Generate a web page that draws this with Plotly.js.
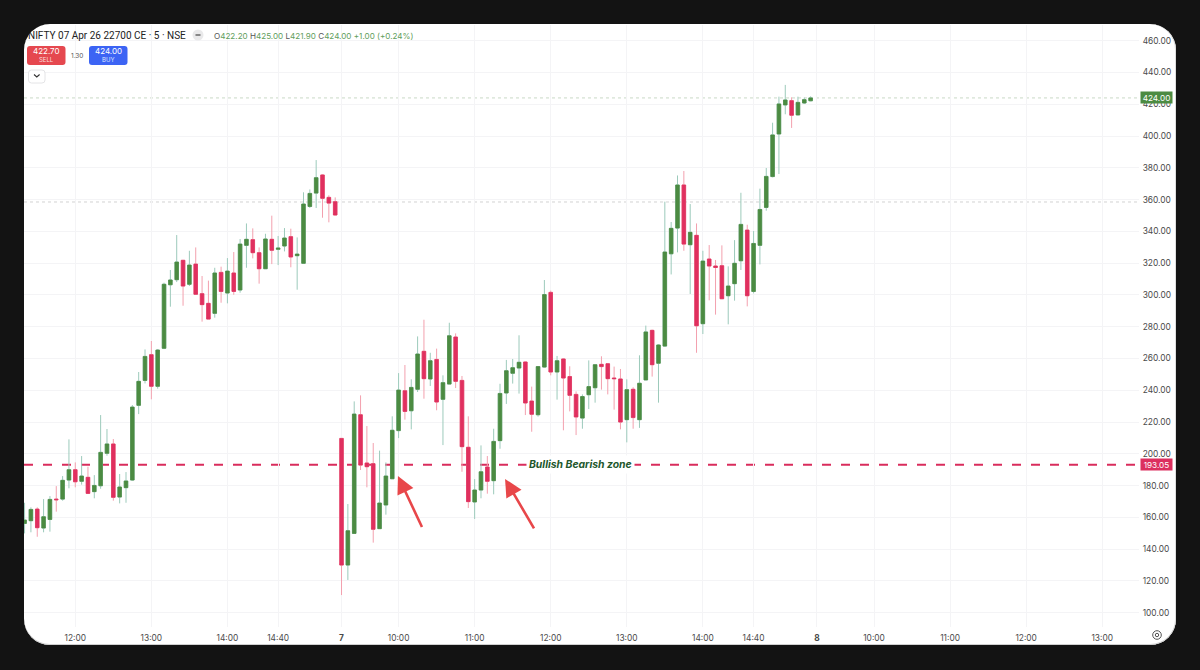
<!DOCTYPE html>
<html>
<head>
<meta charset="utf-8">
<script src="https://cdn.plot.ly/plotly-3.0.1.min.js"></script>
<style>
html,body{margin:0;padding:0;width:1200px;height:670px;background:#131313;overflow:hidden}
#frame{position:absolute;left:24px;top:24px;width:1152px;height:621px;background:#fff;border-radius:26px;overflow:hidden;box-shadow:inset 0 -1px 0 #cfcfcf,inset -1px 0 0 #dedede}
#chart{position:absolute;left:-24px;top:-24px;width:1200px;height:670px}
</style>
</head>
<body>
<div id="frame"><div id="chart"></div></div>
<script>
const opens = [156.2,157.9,165.2,153.3,158.7,171.5,171.5,183.5,190.0,182.7,185.2,176.2,179.9,200.3,206.2,172.8,178.7,183.5,230.5,246.2,262.4,242.5,266.4,306.4,309.6,321.8,306.7,319.4,300.8,294.7,288.4,314.2,301.2,313.8,303.1,331.2,334.8,326.6,316.5,335.0,328.7,330.8,336.7,324.7,319.9,355.7,364.1,375.5,361.4,358.7,
209.7,130.0,149.9,224.6,194.2,193.8,152.9,167.8,184.3,214.6,239.7,227.1,240.6,264.5,247.1,259.4,234.3,243.9,273.5,246.2,204.1,169.7,177.2,191.7,183.1,208.3,238.3,250.7,254.0,257.8,233.2,224.6,254.6,301.6,251.5,259.7,248.6,237.4,222.5,237.2,241.6,256.3,256.7,247.7,247.1,221.5,240.6,221.5,246.5,277.7,257.0,267.8,325.9,342.1,369.2,331.6,337.5,281.9,322.6,318.2,318.4,299.5,307.1,321.5,340.8,302.2,331.2,355.1,374.5,401.3,419.6,422.3,413.3,420.8,422.2];
const highs = [169.2,166.3,166.3,171.5,173.4,179.7,186.0,209.1,194.6,198.6,191.9,186.6,224.4,215.6,209.3,187.3,188.5,230.7,251.5,265.7,271.0,265.9,307.7,315.7,337.7,322.0,327.8,329.9,311.9,309.0,317.1,317.8,323.2,327.0,335.2,345.0,341.9,329.9,338.5,349.9,337.1,342.1,341.7,336.2,364.6,366.4,384.9,375.9,362.7,361.4,
209.9,168.4,233.0,236.8,217.5,206.8,202.0,194.6,223.6,250.8,255.9,246.9,273.9,284.4,263.6,266.2,249.4,282.5,275.8,249.0,223.6,184.1,205.3,198.6,215.8,244.1,259.1,259.7,274.6,258.0,242.3,255.1,309.4,302.7,261.6,260.1,255.1,239.3,237.4,258.8,256.3,261.4,257.0,254.9,253.4,246.9,241.9,262.0,280.7,278.1,268.9,358.7,345.9,375.2,378.0,357.2,345.0,327.8,331.4,322.0,331.2,318.0,334.5,364.3,344.2,340.2,366.9,379.9,408.4,424.8,432.2,424.4,424.8,424.2,425.0];
const lows = [149.9,150.6,147.8,150.6,151.0,163.6,170.5,178.3,178.9,180.6,174.7,172.0,178.0,198.8,170.5,168.8,169.2,183.1,225.0,244.3,234.3,241.0,265.9,292.6,308.1,293.2,305.6,300.1,283.2,284.8,285.7,295.1,294.7,300.1,301.4,317.1,323.0,307.1,316.3,319.4,318.8,327.4,317.4,303.3,319.7,354.7,354.7,348.6,345.7,350.1,
111.1,120.6,149.9,189.8,178.9,144.1,152.9,161.7,184.3,209.9,221.5,215.4,238.9,234.7,242.7,227.4,205.5,243.9,241.4,188.7,165.9,159.0,172.0,174.9,174.5,203.2,231.4,244.2,237.9,224.4,213.9,223.4,254.2,249.4,234.1,214.8,226.7,211.8,215.8,228.2,232.2,240.4,237.4,227.8,215.4,207.2,215.8,216.3,246.5,248.6,232.2,267.4,312.9,326.8,327.8,300.6,263.6,275.4,296.6,287.6,297.6,281.5,296.4,315.7,292.8,301.0,319.2,353.0,374.0,376.1,413.7,405.1,413.1,420.2,421.9];
const closes = [158.3,165.0,153.5,160.4,171.3,171.1,183.3,190.0,182.4,186.0,175.1,180.1,200.9,206.2,172.6,179.1,182.9,229.4,245.6,261.3,242.5,265.3,306.7,309.4,320.7,305.6,318.8,300.4,293.9,284.8,313.8,302.2,315.0,302.2,332.0,335.0,326.6,316.5,335.2,328.1,329.5,335.8,323.9,325.7,357.2,363.9,373.8,360.8,357.8,350.3,
130.0,151.6,225.0,192.9,191.9,152.5,169.0,186.0,214.8,240.1,226.7,241.8,262.8,247.3,258.6,232.6,244.8,274.3,245.6,204.5,169.9,177.2,188.7,182.7,207.8,238.0,252.3,254.2,257.6,232.0,224.9,254.9,300.2,251.5,258.6,247.7,236.8,223.2,236.0,242.3,256.1,254.9,247.3,247.3,220.0,240.4,222.8,244.4,276.7,256.1,268.5,327.0,341.9,369.2,332.0,339.4,280.6,321.3,318.2,317.3,297.6,305.6,319.9,344.4,299.5,332.4,353.8,374.6,400.7,420.2,422.7,413.1,421.2,422.9,424.0];

const tickSlots  = [9,21,33,41,51,60,72,84,96,108,116,126,135,147,159,171];
const tickLabels = ['12:00','13:00','14:00','14:40','<b>7</b>','10:00','11:00','12:00','13:00','14:00','14:40','<b>8</b>','10:00','11:00','12:00','13:00'];
const priceTicks = [100,120,140,160,180,200,220,240,260,280,300,320,340,360,380,400,420,440,460];
const lastPrice = 424.00;
const zonePrice = 193.05;
const levelPrice = 358.5;
const arrowTips  = [[59.9,186.1],[76.8,184.2]];
const arrowTails = [[63.8,153.0],[81.5,152.1]];

const slots = opens.map((_, i) => i + 1);
const bodyTop = opens.map((o, i) => Math.max(o, closes[i]));
const bodyBot = opens.map((o, i) => Math.min(o, closes[i]));

const GREEN = '#4c8b42', RED = '#e0305f';
const WICK_G = '#9ccabb', WICK_R = '#f3a0ae';
const FONT = 'Inter, "Noto Sans", sans-serif';

const L = 24, R = 1139, T = 25, B = 627;
const px = x => (x - L) / (R - L);
const py = y => 1 - (y - T) / (B - T);

function roundRect(x0, y0, x1, y1, r, fill, line) {
  const p = (x, y) => px(x) + ',' + py(y);
  return {
    type: 'path', xref: 'paper', yref: 'paper', fillcolor: fill,
    line: {color: line || fill, width: line ? 1 : 0},
    path: 'M' + p(x0 + r, y0) + ' L' + p(x1 - r, y0) + ' Q' + p(x1, y0) + ' ' + p(x1, y0 + r) +
          ' L' + p(x1, y1 - r) + ' Q' + p(x1, y1) + ' ' + p(x1 - r, y1) +
          ' L' + p(x0 + r, y1) + ' Q' + p(x0, y1) + ' ' + p(x0, y1 - r) +
          ' L' + p(x0, y0 + r) + ' Q' + p(x0, y0) + ' ' + p(x0 + r, y0) + ' Z'
  };
}
function circle(cx, cy, r, fill, line) {
  return {type: 'circle', xref: 'paper', yref: 'paper', x0: px(cx - r), x1: px(cx + r), y0: py(cy + r), y1: py(cy - r),
          fillcolor: fill, line: {color: line || fill, width: line ? 1 : 0}};
}
function label(x, y, text, size, color, anchor, extra) {
  return Object.assign({xref: 'paper', yref: 'paper', x: px(x), y: py(y), text, showarrow: false,
    xanchor: anchor || 'left', yanchor: 'middle', font: {family: FONT, size, color}}, extra || {});
}

const wicks = {
  type: 'candlestick', x: slots, open: opens, high: highs, low: lows, close: closes,
  increasing: {line: {color: WICK_G, width: 1}, fillcolor: WICK_G},
  decreasing: {line: {color: WICK_R, width: 1}, fillcolor: WICK_R},
  hoverinfo: 'skip', showlegend: false
};
const bodies = {
  type: 'candlestick', x: slots, open: opens, high: bodyTop, low: bodyBot, close: closes,
  increasing: {line: {color: GREEN, width: 0.7}, fillcolor: GREEN},
  decreasing: {line: {color: RED, width: 0.7}, fillcolor: RED},
  hoverinfo: 'skip', showlegend: false
};

const hline = (v, color, width, dash) => ({type: 'line', xref: 'paper', yref: 'y', x0: 0, x1: 1, y0: v, y1: v,
  layer: 'below', line: {color, width, dash}});

const chevronP = (x, y) => px(x) + ',' + py(y);

const g = '#5f9e5c';
const ohlc = 'O<span style="color:' + g + '">422.20</span> H<span style="color:' + g + '">425.00</span> L<span style="color:' + g + '">421.90</span> C<span style="color:' + g + '">424.00</span> <span style="color:' + g + '">+1.00 (+0.24%)</span>';

const arrows = arrowTips.map((tip, i) => ({
  xref: 'x', yref: 'y', axref: 'x', ayref: 'y', x: tip[0], y: tip[1], ax: arrowTails[i][0], ay: arrowTails[i][1],
  text: '', showarrow: true, arrowhead: 2, arrowsize: 1.35, arrowwidth: 2.6, arrowcolor: '#e8474a', standoff: 0
}));

const layout = {
  width: 1200, height: 670, autosize: false,
  margin: {l: L, r: 1200 - R, t: T, b: 670 - B, pad: 0},
  paper_bgcolor: 'rgba(0,0,0,0)', plot_bgcolor: 'rgba(0,0,0,0)',
  font: {family: FONT, size: 8.5, color: '#4a4a4a'},
  boxgap: 0.2,
  showlegend: false,
  dragmode: false,
  xaxis: {
    range: [0.91, 176.8], tickmode: 'array', tickvals: tickSlots, ticktext: tickLabels,
    rangeslider: {visible: false}, showgrid: true, gridcolor: '#f4f4f6', gridwidth: 1, zeroline: false,
    showline: false, ticks: 'outside', ticklen: 3, tickcolor: 'rgba(0,0,0,0)',
    tickangle: 0, tickfont: {family: FONT, size: 8.4, color: '#4a4a4a'}
  },
  yaxis: {
    side: 'right', range: [91.0, 469.9], tickmode: 'array', tickvals: priceTicks,
    ticktext: priceTicks.map(v => v.toFixed(2)), showgrid: true, gridcolor: '#f4f4f6', gridwidth: 1,
    zeroline: false, showline: false, ticks: 'outside', ticklen: 1, tickcolor: 'rgba(0,0,0,0)',
    tickfont: {family: FONT, size: 8.4, color: '#4a4a4a'}
  },
  shapes: [
    hline(levelPrice, '#bdbdbd', 0.7, 'dot'),
    hline(lastPrice, '#b2c9ae', 0.7, 'dot'),
    hline(zonePrice, '#d92c5c', 2, '9px,10px'),
    circle(198, 35, 5.5, '#e9e9ea'),
    {type: 'path', xref: 'paper', yref: 'paper', path: 'M' + chevronP(195.5, 35) + ' L' + chevronP(200.5, 35), line: {color: '#666', width: 1.5}},
    roundRect(27, 46, 65.5, 65, 3, '#e5484f'),
    roundRect(89, 46, 127.5, 65, 3, '#3c64f4'),
    roundRect(28.5, 70, 45, 83, 3, '#ffffff', '#e4e4e6'),
    {type: 'path', xref: 'paper', yref: 'paper', path: 'M' + chevronP(34, 74.5) + ' L' + chevronP(36.8, 77) + ' L' + chevronP(39.6, 74.5), line: {color: '#333', width: 1.1}},
    circle(1157, 635, 4.3, '#fff', '#555'),
    circle(1157, 635, 1.7, '#fff', '#555')
  ],
  annotations: [
    label(26, 35, 'NIFTY 07 Apr 26 22700 CE · 5 · NSE', 10, '#222222', 'left', {font: {family: 'Roboto, Inter, sans-serif', size: 10, color: '#222222'}}),
    label(212, 35.5, ohlc, 8.1, '#555555'),
    label(46.2, 51.5, '422.70', 8, '#ffffff', 'center'),
    label(46.2, 60, 'SELL', 6, '#fbdcdc', 'center'),
    label(77, 55.5, '1.30', 6.5, '#555555', 'center'),
    label(108.2, 51.5, '424.00', 8, '#ffffff', 'center'),
    label(108.2, 60, 'BUY', 6, '#dce4ff', 'center'),
    {xref: 'paper', yref: 'y', x: px(1139.5), y: lastPrice, xanchor: 'left', yanchor: 'middle', text: lastPrice.toFixed(2),
     showarrow: false, bgcolor: GREEN, width: 31, height: 11, borderpad: 0, font: {family: FONT, size: 8.2, color: '#fff'}},
    {xref: 'paper', yref: 'y', x: px(1139.5), y: zonePrice, xanchor: 'left', yanchor: 'middle', text: zonePrice.toFixed(2),
     showarrow: false, bgcolor: '#dc2f5f', width: 31, height: 11, borderpad: 0, font: {family: FONT, size: 8.2, color: '#fff'}},
    {xref: 'x', yref: 'y', x: 88.7, y: zonePrice, xanchor: 'center', yanchor: 'middle', text: '<b><i>Bullish Bearish zone</i></b>',
     showarrow: false, bgcolor: '#ffffff', borderpad: 2, font: {family: FONT, size: 10.4, color: '#22572c'}}
  ].concat(arrows)
};

Plotly.newPlot('chart', [wicks, bodies], layout, {displayModeBar: false, staticPlot: true});
</script>
</body>
</html>
